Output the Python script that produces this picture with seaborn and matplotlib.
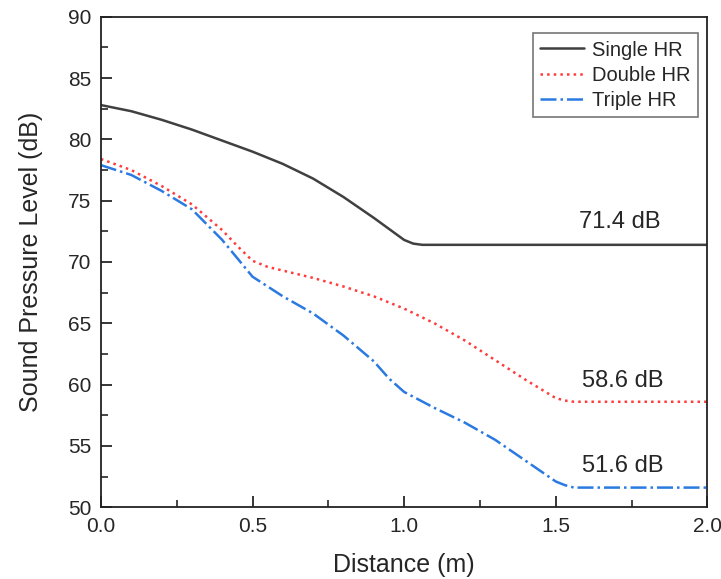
import numpy as np
import pandas as pd
import matplotlib
matplotlib.use("Agg")
import matplotlib.pyplot as plt
from matplotlib.ticker import MultipleLocator, FormatStrFormatter
import seaborn as sns

# values
single_x = [0.0, 0.1, 0.2, 0.3, 0.4, 0.5, 0.6, 0.7, 0.8, 0.9, 0.95, 1.0, 1.03, 1.06, 2.0]
single_y = [82.8, 82.3, 81.6, 80.8, 79.9, 79.0, 78.0, 76.8, 75.3, 73.6, 72.7, 71.8, 71.5, 71.4, 71.4]

double_x = [0.0, 0.1, 0.2, 0.3, 0.4, 0.45, 0.5, 0.55, 0.6, 0.7, 0.8, 0.9, 1.0, 1.1, 1.2, 1.3,
            1.4, 1.5, 1.53, 1.56, 2.0]
double_y = [78.4, 77.5, 76.2, 74.7, 72.6, 71.3, 70.1, 69.6, 69.3, 68.7, 68.0, 67.2, 66.2, 65.0,
            63.6, 62.0, 60.4, 58.9, 58.7, 58.6, 58.6]

triple_x = [0.0, 0.1, 0.2, 0.3, 0.4, 0.45, 0.5, 0.6, 0.7, 0.8, 0.9, 0.95, 1.0, 1.1, 1.2, 1.3,
            1.4, 1.5, 1.53, 1.56, 2.0]
triple_y = [77.9, 77.1, 75.8, 74.3, 71.8, 70.3, 68.8, 67.2, 65.8, 64.0, 61.9, 60.5, 59.4, 58.1,
            56.9, 55.5, 53.8, 52.1, 51.8, 51.6, 51.6]

labels = ['Single HR', 'Double HR', 'Triple HR']
final_labels = ['71.4 dB', '58.6 dB', '51.6 dB']
label_pos = [(1.71, 73.3), (1.72, 60.3), (1.72, 53.4)]

sns.set_style('ticks')
plt.rcParams['font.family'] = ['Liberation Sans', 'DejaVu Sans']

fig = plt.figure(figsize=(7.21, 5.79), dpi=100)
ax = fig.add_axes([0.140, 0.124, 0.841, 0.847])

series = [(single_x, single_y, '#404040', '-'),
          (double_x, double_y, '#ff3b3b', ':'),
          (triple_x, triple_y, '#2a7ae2', '-.')]
for (xs, ys, col, ls), lbl in zip(series, labels):
    df = pd.DataFrame({'x': xs, 'y': ys})
    sns.lineplot(data=df, x='x', y='y', ax=ax, color=col, linestyle=ls, lw=1.8, label=lbl)

for txt, (tx, ty) in zip(final_labels, label_pos):
    ax.text(tx, ty, txt, ha='center', va='center', fontsize=17)

ax.set_xlim(0, 2)
ax.set_ylim(50, 90)
ax.xaxis.set_major_locator(MultipleLocator(0.5))
ax.xaxis.set_minor_locator(MultipleLocator(0.25))
ax.xaxis.set_major_formatter(FormatStrFormatter('%.1f'))
ax.yaxis.set_major_locator(MultipleLocator(5))
ax.yaxis.set_minor_locator(MultipleLocator(2.5))
ax.tick_params(which='major', direction='in', length=8, width=1.3, labelsize=15, pad=7)
ax.tick_params(which='minor', direction='in', length=5, width=1.2)
for sp in ax.spines.values():
    sp.set_linewidth(1.3)
    sp.set_color('#222222')
ax.set_xlabel('Distance (m)', fontsize=18, labelpad=12)
ax.set_ylabel('Sound Pressure Level (dB)', fontsize=18, labelpad=18)

leg = ax.legend(loc='upper right', bbox_to_anchor=(0.984, 0.966), fontsize=14.5,
                frameon=True, fancybox=False, handlelength=2.2, borderaxespad=0,
                labelspacing=0.3, handletextpad=0.4, borderpad=0.35)
leg.get_frame().set_edgecolor('#555555')
leg.get_frame().set_linewidth(1.2)

fig.savefig('out.png', dpi=100)
